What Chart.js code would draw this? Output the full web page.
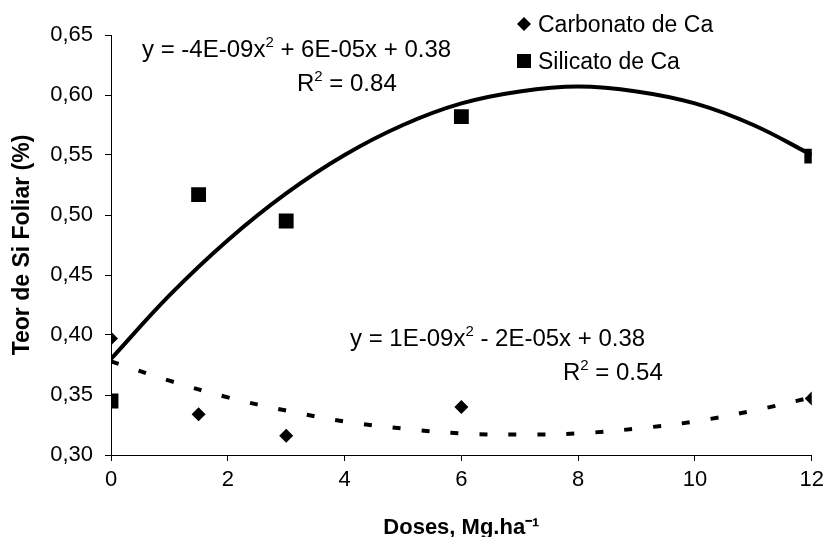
<!DOCTYPE html>
<html>
<head>
<meta charset="utf-8">
<script src="https://cdn.jsdelivr.net/npm/chart.js@4/dist/chart.umd.min.js"></script>
<style>
  html, body { margin: 0; padding: 0; background: #fff; }
  #wrap { width: 830px; height: 537px; }
</style>
</head>
<body>
<div id="wrap"><canvas id="siChart" width="830" height="537"></canvas></div>
<script>
// doses (Mg/ha) and measured leaf Si (%)
const doses = [0, 1.5, 3, 6, 12];
const carbonato = [0.397, 0.334, 0.316, 0.340, 0.347];
const silicato = [0.345, 0.517, 0.495, 0.582, 0.549];

// trend curves at each whole dose
const trendX = [0, 1, 2, 3, 4, 5, 6, 7, 8, 9, 10, 11, 12];
const silicatoTrend = [0.380, 0.433, 0.479, 0.518, 0.550, 0.575, 0.593, 0.603, 0.607, 0.603, 0.593, 0.575, 0.550];
const carbonatoTrend = [0.378, 0.362, 0.348, 0.337, 0.328, 0.322, 0.318, 0.317, 0.318, 0.322, 0.328, 0.337, 0.348];

const xTicks = [0, 2, 4, 6, 8, 10, 12];
const seriesNames = ['Carbonato de Ca', 'Silicato de Ca'];

const FONT = '"Liberation Sans", Arial, sans-serif';

function pts(xs, ys) {
  return xs.map((x, i) => ({ x: x, y: ys[i] }));
}

// draws text with superscript pieces, parts = [[text, isSup], ...]
function drawRich(ctx, parts, x, y) {
  let cx = x;
  parts.forEach(p => {
    if (p[1]) {
      ctx.font = '15px ' + FONT;
      ctx.fillText(p[0], cx, y - 10);
    } else {
      ctx.font = '24px ' + FONT;
      ctx.fillText(p[0], cx, y);
    }
    cx += ctx.measureText(p[0]).width;
  });
}

const annotations = {
  id: 'annotations',
  afterDraw(chart) {
    const ctx = chart.ctx;
    ctx.save();
    ctx.fillStyle = '#000';
    ctx.textAlign = 'left';
    ctx.textBaseline = 'alphabetic';

    drawRich(ctx, [['y = -4E-09x', false], ['2', true], [' + 6E-05x + 0.38', false]], 142, 57);
    drawRich(ctx, [['R', false], ['2', true], [' = 0.84', false]], 297, 91);
    drawRich(ctx, [['y = 1E-09x', false], ['2', true], [' - 2E-05x + 0.38', false]], 350, 346);
    drawRich(ctx, [['R', false], ['2', true], [' = 0.54', false]], 563, 380);

    // legend
    ctx.beginPath();
    ctx.moveTo(524, 17); ctx.lineTo(531, 24); ctx.lineTo(524, 31); ctx.lineTo(517, 24);
    ctx.closePath();
    ctx.fill();
    ctx.fillRect(517, 54, 14, 14);
    ctx.font = '23px ' + FONT;
    ctx.fillText(seriesNames[0], 538, 32);
    ctx.fillText(seriesNames[1], 538, 69);
    ctx.restore();
  }
};

new Chart(document.getElementById('siChart').getContext('2d'), {
  type: 'scatter',
  data: {
    datasets: [
      {
        label: seriesNames[0],
        data: pts(doses, carbonato),
        pointStyle: 'rectRot',
        pointRadius: 7,
        backgroundColor: '#000',
        borderColor: '#000',
        borderWidth: 0
      },
      {
        label: seriesNames[1],
        data: pts(doses, silicato),
        pointStyle: 'rect',
        pointRadius: 10.5,
        backgroundColor: '#000',
        borderColor: '#000',
        borderWidth: 0
      },
      {
        label: 'Silicato trend',
        data: pts(trendX, silicatoTrend),
        showLine: true,
        tension: 0.4,
        pointRadius: 0,
        borderColor: '#000',
        borderWidth: 4
      },
      {
        label: 'Carbonato trend',
        data: pts(trendX, carbonatoTrend),
        showLine: true,
        tension: 0.4,
        pointRadius: 0,
        borderColor: '#000',
        borderWidth: 4,
        borderDash: [8, 21]
      }
    ]
  },
  options: {
    responsive: false,
    animation: false,
    layout: { padding: { top: 35, right: 13, left: 0, bottom: 0 } },
    plugins: {
      legend: { display: false },
      tooltip: { enabled: false }
    },
    scales: {
      x: {
        type: 'linear',
        min: 0,
        max: 12,
        afterFit: s => { s.height = 82; },
        afterBuildTicks: s => { s.ticks = xTicks.map(v => ({ value: v })); },
        ticks: { color: '#000', font: { family: FONT, size: 22 }, padding: 6 },
        grid: { drawOnChartArea: false, tickLength: 6, tickColor: '#000' },
        border: { color: '#000', width: 1 },
        title: {
          display: true,
          text: 'Doses, Mg.ha⁻¹',
          color: '#000',
          font: { family: FONT, size: 22, weight: 'bold', lineHeight: 0.8 },
          padding: { top: 0, bottom: 0 }
        }
      },
      y: {
        min: 0.30,
        max: 0.65,
        afterFit: s => { s.width = 111; },
        ticks: {
          stepSize: 0.05,
          color: '#000',
          font: { family: FONT, size: 22 },
          padding: 12,
          callback: v => v.toFixed(2).replace('.', ',')
        },
        grid: { drawOnChartArea: false, tickLength: 6, tickColor: '#000' },
        border: { color: '#000', width: 1 },
        title: {
          display: true,
          text: 'Teor de Si Foliar (%)',
          color: '#000',
          font: { family: FONT, size: 23, weight: 'bold', lineHeight: 1 },
          padding: { top: 11, bottom: 0 }
        }
      }
    }
  },
  plugins: [annotations]
});
</script>
</body>
</html>
